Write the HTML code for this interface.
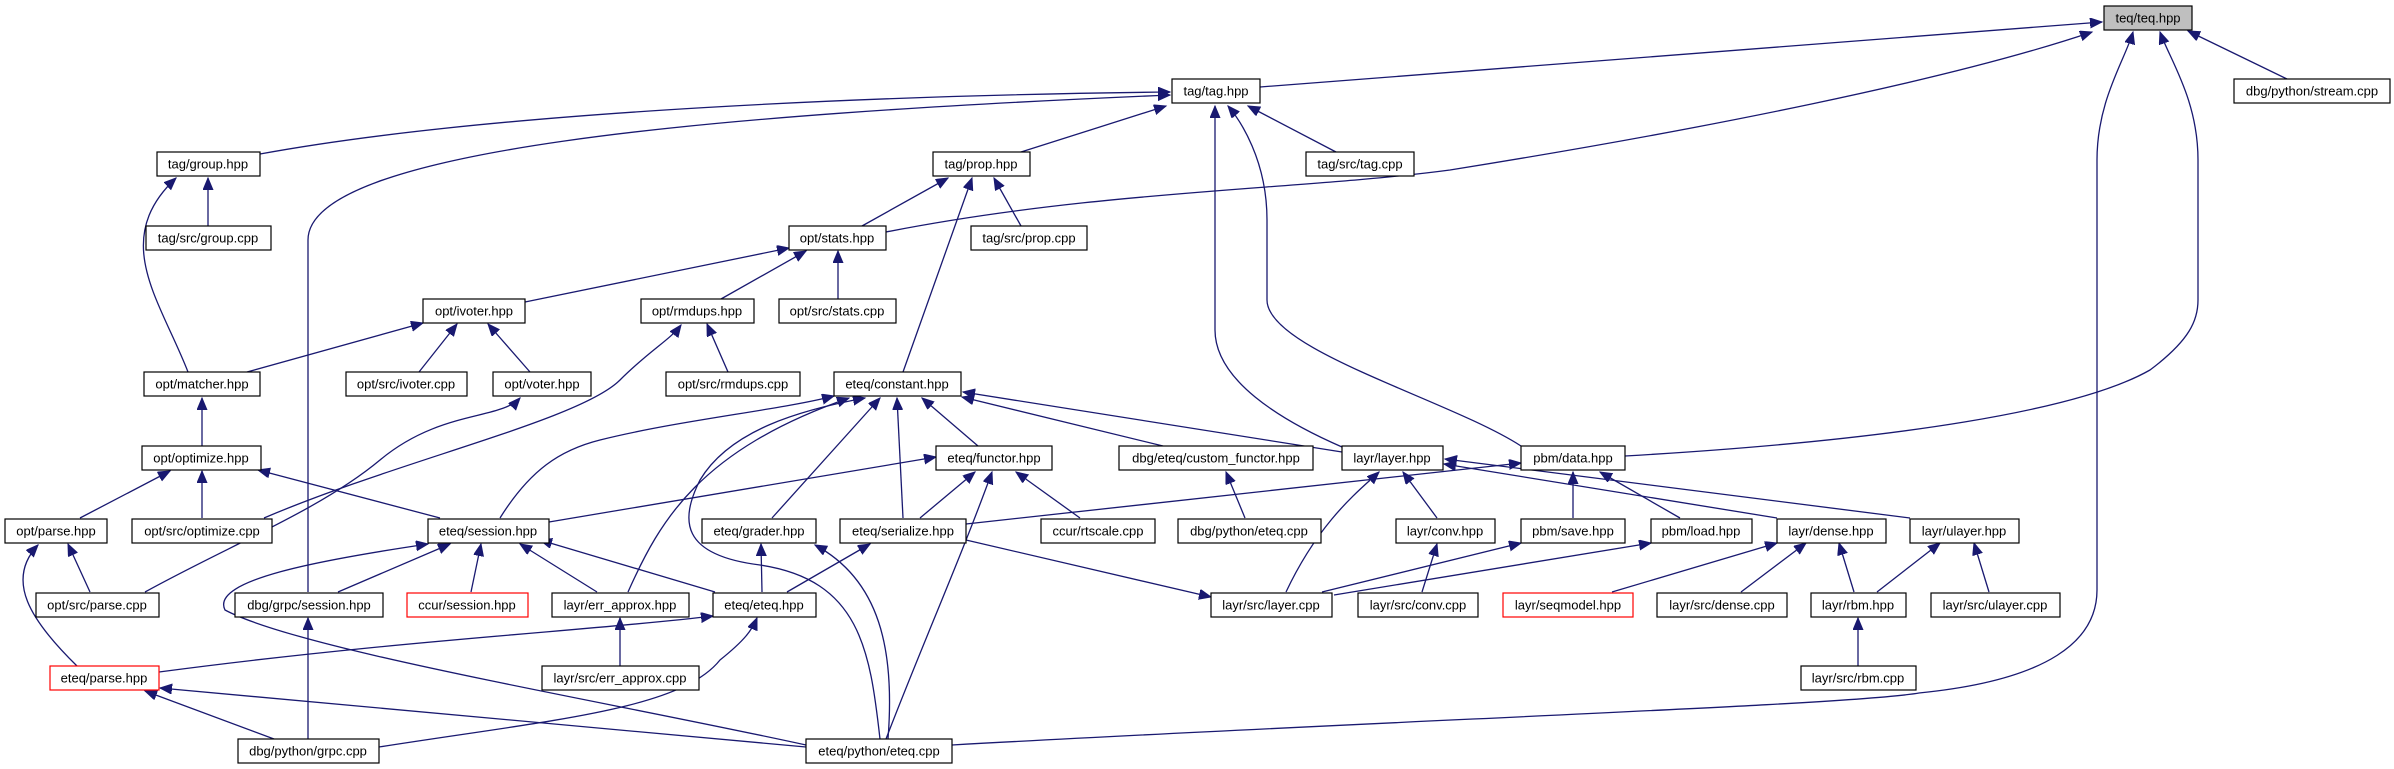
<!DOCTYPE html>
<html><head><meta charset="utf-8"><style>
html,body{margin:0;padding:0;background:#fff;}
svg{display:block;}
text{font-family:"Liberation Sans",Arial,sans-serif;font-size:13px;text-anchor:middle;dominant-baseline:central;fill:#000;}
.n{fill:#fff;stroke:#000;stroke-width:1.2;}
.r{fill:#fff;stroke:#f00;stroke-width:1.2;}
.e{fill:none;stroke:#191970;stroke-width:1.3;marker-end:url(#a);}
</style></head><body>
<svg width="2394" height="769" viewBox="0 0 2394 769" xmlns="http://www.w3.org/2000/svg">
<defs><marker id="a" markerUnits="userSpaceOnUse" markerWidth="14" markerHeight="12" refX="12" refY="5" orient="auto"><path d="M0,0 L12,5 L0,10 Z" fill="#191970" stroke="#191970"/></marker></defs>
<g>
<!-- teq edges -->
<path class="e" d="M1260,87 L2102,22"/>
<path class="e" d="M886,232 C1100,190 1300,190 1450,170 C1700,130 1950,80 2092,32"/>
<path class="e" d="M952,745 C1400,720 1850,705 1919,693 C2050,680 2097,640 2097,590 L2097,160 C2097,100 2125,60 2133,32"/>
<path class="e" d="M1625,456 C1900,440 2080,410 2150,370 C2190,340 2198,320 2198,300 L2198,160 C2198,100 2170,60 2160,32"/>
<path class="e" d="M2287,79 L2188,31"/>
<!-- tag edges -->
<path class="e" d="M260,154 C500,110 900,95 1170,92"/>
<path class="e" d="M308,592 L308,240 C308,150 700,115 1170,95"/>
<path class="e" d="M1021,152 L1166,106"/>
<path class="e" d="M1336,152 L1248,106"/>
<path class="e" d="M1342,447 C1280,420 1215,380 1215,330 L1215,106"/>
<path class="e" d="M1521,446 C1450,400 1267,350 1267,300 L1267,220 C1267,160 1240,120 1228,106"/>
<!-- group -->
<path class="e" d="M208,226 L208,178"/>
<path class="e" d="M188,372 C160,300 110,240 176,178"/>
<!-- prop -->
<path class="e" d="M862,226 L948,178"/>
<path class="e" d="M1021,226 L994,178"/>
<path class="e" d="M903,372 L972,178"/>
<!-- stats -->
<path class="e" d="M525,302 L789,248"/>
<path class="e" d="M721,299 L806,251"/>
<path class="e" d="M838,299 L838,251"/>
<!-- ivoter -->
<path class="e" d="M247,372 L423,323"/>
<path class="e" d="M419,372 L457,324"/>
<path class="e" d="M530,372 L488,324"/>
<!-- rmdups -->
<path class="e" d="M728,372 L707,324"/>
<path class="e" d="M264,518 C400,460 580,420 620,380 C650,350 670,340 681,325"/>
<!-- voter -->
<path class="e" d="M145,592 C230,545 320,510 380,460 C440,410 500,420 520,398"/>
<!-- optimize -->
<path class="e" d="M202,446 L202,398"/>
<path class="e" d="M80,518 L170,471"/>
<path class="e" d="M202,518 L202,471"/>
<path class="e" d="M440,518 L258,470"/>
<!-- opt/parse -->
<path class="e" d="M90,592 L68,544"/>
<path class="e" d="M77,666 C30,620 5,580 38,545"/>
<!-- constant -->
<path class="e" d="M500,518 C530,470 560,450 600,440 C680,420 780,410 834,396"/>
<path class="e" d="M628,592 C660,520 700,450 849,398"/>
<path class="e" d="M880,739 C870,650 860,580 760,565 C680,555 680,520 700,480 C730,430 800,410 865,398"/>
<path class="e" d="M772,518 L880,398"/>
<path class="e" d="M903,518 L897,398"/>
<path class="e" d="M978,446 L922,398"/>
<path class="e" d="M1163,446 L962,397"/>
<path class="e" d="M1342,452 L963,392"/>
<!-- functor -->
<path class="e" d="M549,522 L936,457"/>
<path class="e" d="M920,518 L975,472"/>
<path class="e" d="M886,739 C920,650 960,560 992,472"/>
<path class="e" d="M1080,518 L1016,472"/>
<path class="e" d="M1245,518 L1226,472"/>
<!-- serialize -> data -->
<path class="e" d="M966,524 L1521,463"/>
<!-- layer -->
<path class="e" d="M1286,592 C1320,520 1360,490 1379,472"/>
<path class="e" d="M1437,518 L1403,472"/>
<path class="e" d="M1777,518 L1444,464"/>
<path class="e" d="M1910,518 L1445,459"/>
<!-- data -->
<path class="e" d="M1573,518 L1573,472"/>
<path class="e" d="M1680,518 L1600,472"/>
<!-- conv etc -->
<path class="e" d="M1422,592 L1437,544"/>
<path class="e" d="M1322,592 L1521,543"/>
<path class="e" d="M1334,595 L1651,543"/>
<path class="e" d="M1612,592 L1777,543"/>
<path class="e" d="M1741,592 L1806,543"/>
<path class="e" d="M1854,592 L1839,543"/>
<path class="e" d="M1877,592 L1940,543"/>
<path class="e" d="M1989,592 L1974,543"/>
<path class="e" d="M1858,666 L1858,618"/>
<!-- session -->
<path class="e" d="M338,592 L450,544"/>
<path class="e" d="M471,592 L481,544"/>
<path class="e" d="M597,592 L520,544"/>
<path class="e" d="M715,592 L540,540"/>
<path class="e" d="M806,745 C600,700 300,650 225,610 C210,580 320,560 428,544"/>
<!-- grader/serialize -->
<path class="e" d="M762,592 L761,544"/>
<path class="e" d="M888,739 C895,650 880,580 815,545"/>
<path class="e" d="M787,592 L870,544"/>
<path class="e" d="M966,540 L1211,597"/>
<!-- eteq.hpp -->
<path class="e" d="M159,672 C400,640 600,630 713,616"/>
<path class="e" d="M379,747 C550,720 680,710 720,660 C745,640 752,630 757,618"/>
<path class="e" d="M620,666 L620,618"/>
<path class="e" d="M308,739 L308,618"/>
<path class="e" d="M274,739 L145,691"/>
<path class="e" d="M806,747 L160,688"/>
</g>
<g>
<rect x="2104" y="6" width="88" height="24" fill="#bfbfbf" stroke="#000" stroke-width="1.2"/><text x="2148" y="18">teq/teq.hpp</text>
<rect class="n" x="1172" y="79" width="88" height="24"/><text x="1216" y="91">tag/tag.hpp</text>
<rect class="n" x="2234" y="79" width="156" height="24"/><text x="2312" y="91">dbg/python/stream.cpp</text>
<rect class="n" x="157" y="152" width="103" height="24"/><text x="208" y="164">tag/group.hpp</text>
<rect class="n" x="933" y="152" width="97" height="24"/><text x="981" y="164">tag/prop.hpp</text>
<rect class="n" x="1306" y="152" width="108" height="24"/><text x="1360" y="164">tag/src/tag.cpp</text>
<rect class="n" x="146" y="226" width="125" height="24"/><text x="208" y="238">tag/src/group.cpp</text>
<rect class="n" x="789" y="226" width="97" height="24"/><text x="837" y="238">opt/stats.hpp</text>
<rect class="n" x="971" y="226" width="116" height="24"/><text x="1029" y="238">tag/src/prop.cpp</text>
<rect class="n" x="423" y="299" width="102" height="24"/><text x="474" y="311">opt/ivoter.hpp</text>
<rect class="n" x="641" y="299" width="113" height="24"/><text x="697" y="311">opt/rmdups.hpp</text>
<rect class="n" x="779" y="299" width="117" height="24"/><text x="837" y="311">opt/src/stats.cpp</text>
<rect class="n" x="144" y="372" width="116" height="24"/><text x="202" y="384">opt/matcher.hpp</text>
<rect class="n" x="346" y="372" width="121" height="24"/><text x="406" y="384">opt/src/ivoter.cpp</text>
<rect class="n" x="493" y="372" width="98" height="24"/><text x="542" y="384">opt/voter.hpp</text>
<rect class="n" x="666" y="372" width="134" height="24"/><text x="733" y="384">opt/src/rmdups.cpp</text>
<rect class="n" x="834" y="372" width="127" height="24"/><text x="897" y="384">eteq/constant.hpp</text>
<rect class="n" x="142" y="446" width="119" height="24"/><text x="201" y="458">opt/optimize.hpp</text>
<rect class="n" x="936" y="446" width="116" height="24"/><text x="994" y="458">eteq/functor.hpp</text>
<rect class="n" x="1119" y="446" width="194" height="24"/><text x="1216" y="458">dbg/eteq/custom_functor.hpp</text>
<rect class="n" x="1342" y="446" width="101" height="24"/><text x="1392" y="458">layr/layer.hpp</text>
<rect class="n" x="1521" y="446" width="104" height="24"/><text x="1573" y="458">pbm/data.hpp</text>
<rect class="n" x="5" y="519" width="102" height="24"/><text x="56" y="531">opt/parse.hpp</text>
<rect class="n" x="132" y="519" width="140" height="24"/><text x="202" y="531">opt/src/optimize.cpp</text>
<rect class="n" x="428" y="519" width="121" height="24"/><text x="488" y="531">eteq/session.hpp</text>
<rect class="n" x="702" y="519" width="114" height="24"/><text x="759" y="531">eteq/grader.hpp</text>
<rect class="n" x="840" y="519" width="126" height="24"/><text x="903" y="531">eteq/serialize.hpp</text>
<rect class="n" x="1041" y="519" width="114" height="24"/><text x="1098" y="531">ccur/rtscale.cpp</text>
<rect class="n" x="1178" y="519" width="143" height="24"/><text x="1249" y="531">dbg/python/eteq.cpp</text>
<rect class="n" x="1396" y="519" width="99" height="24"/><text x="1445" y="531">layr/conv.hpp</text>
<rect class="n" x="1521" y="519" width="104" height="24"/><text x="1573" y="531">pbm/save.hpp</text>
<rect class="n" x="1651" y="519" width="101" height="24"/><text x="1701" y="531">pbm/load.hpp</text>
<rect class="n" x="1777" y="519" width="109" height="24"/><text x="1831" y="531">layr/dense.hpp</text>
<rect class="n" x="1910" y="519" width="109" height="24"/><text x="1964" y="531">layr/ulayer.hpp</text>
<rect class="n" x="36" y="593" width="123" height="24"/><text x="97" y="605">opt/src/parse.cpp</text>
<rect class="n" x="235" y="593" width="148" height="24"/><text x="309" y="605">dbg/grpc/session.hpp</text>
<rect class="r" x="407" y="593" width="121" height="24"/><text x="467" y="605">ccur/session.hpp</text>
<rect class="n" x="552" y="593" width="137" height="24"/><text x="620" y="605">layr/err_approx.hpp</text>
<rect class="n" x="713" y="593" width="103" height="24"/><text x="764" y="605">eteq/eteq.hpp</text>
<rect class="n" x="1211" y="593" width="121" height="24"/><text x="1271" y="605">layr/src/layer.cpp</text>
<rect class="n" x="1358" y="593" width="120" height="24"/><text x="1418" y="605">layr/src/conv.cpp</text>
<rect class="r" x="1503" y="593" width="130" height="24"/><text x="1568" y="605">layr/seqmodel.hpp</text>
<rect class="n" x="1657" y="593" width="130" height="24"/><text x="1722" y="605">layr/src/dense.cpp</text>
<rect class="n" x="1811" y="593" width="95" height="24"/><text x="1858" y="605">layr/rbm.hpp</text>
<rect class="n" x="1931" y="593" width="129" height="24"/><text x="1995" y="605">layr/src/ulayer.cpp</text>
<rect class="r" x="50" y="666" width="109" height="24"/><text x="104" y="678">eteq/parse.hpp</text>
<rect class="n" x="542" y="666" width="157" height="24"/><text x="620" y="678">layr/src/err_approx.cpp</text>
<rect class="n" x="1801" y="666" width="115" height="24"/><text x="1858" y="678">layr/src/rbm.cpp</text>
<rect class="n" x="238" y="739" width="141" height="24"/><text x="308" y="751">dbg/python/grpc.cpp</text>
<rect class="n" x="806" y="739" width="146" height="24"/><text x="879" y="751">eteq/python/eteq.cpp</text>
</g>
</svg>
</body></html>
